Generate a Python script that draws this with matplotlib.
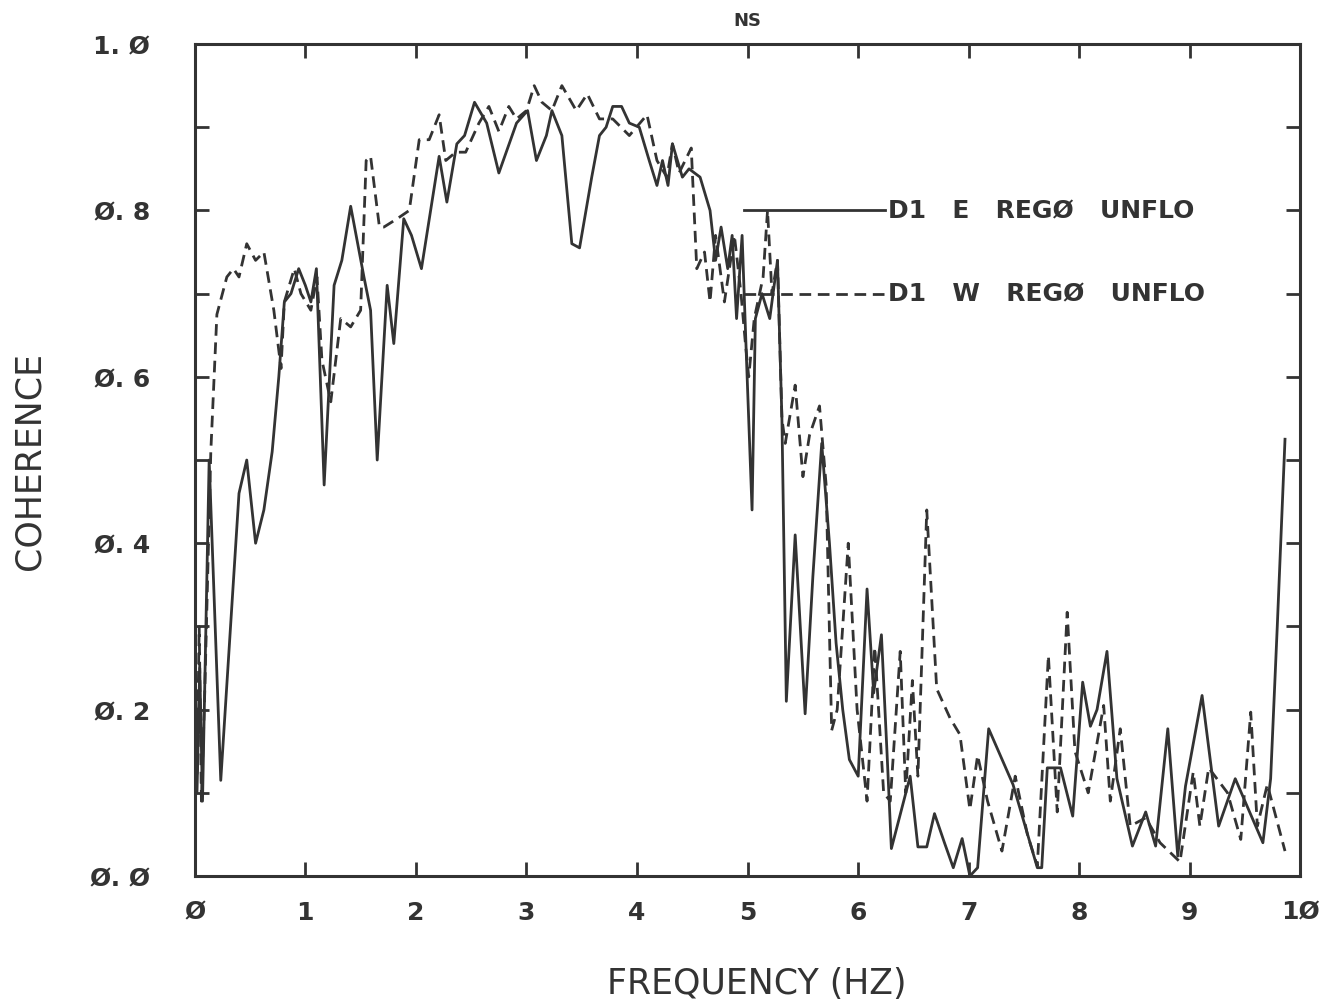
import numpy as np
import matplotlib
matplotlib.use("Agg")
import matplotlib.pyplot as plt
from matplotlib.ticker import MultipleLocator

# coherence vs frequency, east station (solid)
freq_e = [0.00, 0.02, 0.045, 0.07, 0.13, 0.235, 0.40, 0.47, 0.55, 0.625,
          0.70, 0.76, 0.81, 0.87, 0.94, 1.00, 1.05, 1.10, 1.17, 1.26,
          1.33, 1.41, 1.53, 1.59, 1.65, 1.74, 1.80, 1.89, 1.96, 2.05,
          2.21, 2.28, 2.37, 2.44, 2.53, 2.64, 2.75, 2.91, 3.01, 3.09,
          3.18, 3.23, 3.32, 3.41, 3.48, 3.59, 3.66, 3.72, 3.78, 3.86,
          3.93, 4.02, 4.11, 4.18, 4.23, 4.28, 4.32, 4.41, 4.47, 4.57,
          4.66, 4.71, 4.76, 4.82, 4.86, 4.90, 4.95, 4.99, 5.04, 5.07,
          5.13, 5.20, 5.27, 5.31, 5.35, 5.43, 5.52, 5.59, 5.67, 5.74,
          5.80, 5.86, 5.92, 6.00, 6.08, 6.14, 6.21, 6.26, 6.30, 6.47,
          6.54, 6.62, 6.69, 6.78, 6.86, 6.94, 7.01, 7.08, 7.18, 7.40,
          7.62, 7.66, 7.71, 7.83, 7.94, 8.03, 8.10, 8.16, 8.25, 8.34,
          8.48, 8.60, 8.69, 8.80, 8.89, 8.96, 9.11, 9.26, 9.41, 9.53,
          9.66, 9.73, 9.79, 9.86]
coh_e = [0.30, 0.10, 0.25, 0.09, 0.50, 0.115, 0.46, 0.50, 0.40, 0.44,
         0.51, 0.60, 0.69, 0.70, 0.73, 0.71, 0.69, 0.73, 0.47, 0.71,
         0.74, 0.805, 0.72, 0.68, 0.50, 0.71, 0.64, 0.79, 0.77, 0.73,
         0.865, 0.81, 0.88, 0.89, 0.93, 0.905, 0.845, 0.905, 0.92, 0.86,
         0.89, 0.92, 0.89, 0.76, 0.755, 0.84, 0.89, 0.90, 0.925, 0.925,
         0.905, 0.90, 0.86, 0.83, 0.86, 0.83, 0.88, 0.84, 0.85, 0.84,
         0.80, 0.74, 0.78, 0.73, 0.77, 0.67, 0.77, 0.62, 0.44, 0.67,
         0.70, 0.67, 0.74, 0.55, 0.21, 0.41, 0.195, 0.36, 0.52, 0.40,
         0.28, 0.20, 0.14, 0.12, 0.345, 0.22, 0.29, 0.15, 0.033, 0.12,
         0.035, 0.035, 0.075, 0.04, 0.01, 0.045, 0.0, 0.01, 0.177, 0.11,
         0.01, 0.01, 0.13, 0.13, 0.072, 0.233, 0.18, 0.20, 0.27, 0.117,
         0.036, 0.077, 0.036, 0.177, 0.024, 0.108, 0.217, 0.06, 0.117, 0.08,
         0.04, 0.117, 0.30, 0.525]

# coherence vs frequency, west station (dashed)
freq_w = [0.00, 0.02, 0.04, 0.06, 0.09, 0.145, 0.20, 0.29, 0.35, 0.40,
          0.47, 0.55, 0.625, 0.715, 0.78, 0.81, 0.90, 0.96, 1.05, 1.105,
          1.15, 1.23, 1.32, 1.41, 1.50, 1.55, 1.59, 1.67, 1.71, 1.83,
          1.94, 2.03, 2.12, 2.21, 2.27, 2.36, 2.45, 2.57, 2.66, 2.75,
          2.84, 2.91, 3.00, 3.07, 3.14, 3.23, 3.32, 3.45, 3.55, 3.66,
          3.78, 3.93, 4.09, 4.18, 4.27, 4.32, 4.38, 4.49, 4.54, 4.61,
          4.66, 4.71, 4.79, 4.88, 4.94, 4.98, 5.01, 5.06, 5.14, 5.18,
          5.22, 5.27, 5.31, 5.34, 5.43, 5.50, 5.56, 5.65, 5.71, 5.76,
          5.81, 5.91, 5.99, 6.08, 6.15, 6.23, 6.29, 6.38, 6.43, 6.49,
          6.54, 6.62, 6.71, 6.83, 6.92, 7.01, 7.08, 7.17, 7.30, 7.42,
          7.53, 7.62, 7.72, 7.80, 7.89, 7.96, 8.08, 8.22, 8.28, 8.37,
          8.46, 8.60, 8.73, 8.91, 9.03, 9.09, 9.17, 9.34, 9.46, 9.55,
          9.61, 9.70, 9.86]
coh_w = [0.25, 0.12, 0.30, 0.09, 0.22, 0.51, 0.675, 0.72, 0.73, 0.72,
         0.76, 0.74, 0.75, 0.68, 0.61, 0.69, 0.73, 0.70, 0.68, 0.72,
         0.62, 0.57, 0.67, 0.66, 0.68, 0.86, 0.865, 0.78, 0.78, 0.79,
         0.80, 0.885, 0.885, 0.915, 0.86, 0.87, 0.87, 0.905, 0.925, 0.895,
         0.925, 0.91, 0.92, 0.95, 0.93, 0.92, 0.95, 0.92, 0.94, 0.91,
         0.91, 0.89, 0.915, 0.86, 0.84, 0.88, 0.845, 0.875, 0.73, 0.75,
         0.69, 0.77, 0.69, 0.77, 0.70, 0.64, 0.60, 0.67, 0.72, 0.80,
         0.70, 0.74, 0.55, 0.52, 0.59, 0.48, 0.53, 0.565, 0.47, 0.175,
         0.20, 0.40, 0.20, 0.09, 0.275, 0.10, 0.09, 0.27, 0.10, 0.235,
         0.12, 0.44, 0.225, 0.19, 0.17, 0.08, 0.145, 0.09, 0.03, 0.12,
         0.05, 0.012, 0.265, 0.077, 0.317, 0.15, 0.10, 0.205, 0.09, 0.177,
         0.06, 0.07, 0.04, 0.017, 0.125, 0.06, 0.13, 0.10, 0.044, 0.197,
         0.06, 0.11, 0.03]

x_ticks = list(range(11))
x_labels = ["Ø", "1", "2", "3", "4", "5", "6", "7", "8", "9", "1Ø"]
y_ticks = [0.0, 0.2, 0.4, 0.6, 0.8, 1.0]
y_labels = ["Ø. Ø", "Ø. 2", "Ø. 4", "Ø. 6", "Ø. 8", "1. Ø"]
legend_e = "D1   E   REGØ   UNFLO"
legend_w = "D1   W   REGØ   UNFLO"

ink = "#333333"
dash = (0, (4.2, 2.4))

fig = plt.figure(figsize=(13.25, 10.03), dpi=100)
ax = fig.add_axes([0.147, 0.1256, 0.8345, 0.8295])

ax.plot(freq_e, coh_e, color=ink, lw=2.0)
ax.plot(freq_w, coh_w, color=ink, lw=2.0, linestyle=dash)

ax.set_xlim(0, 10)
ax.set_ylim(0, 1)
ax.set_xticks(x_ticks)
ax.set_xticklabels(x_labels)
ax.set_yticks(y_ticks)
ax.set_yticklabels(y_labels)
ax.yaxis.set_minor_locator(MultipleLocator(0.1))

for lab in ax.get_xticklabels() + ax.get_yticklabels():
    lab.set_fontfamily("DejaVu Sans")
    lab.set_fontweight("bold")
    lab.set_fontsize(18)
    lab.set_color(ink)

ax.tick_params(axis="both", which="both", direction="in", length=10, width=2,
               color=ink, top=True, right=True)
ax.tick_params(axis="x", pad=17)
ax.tick_params(axis="y", pad=32)
for s in ax.spines.values():
    s.set_linewidth(2.2)
    s.set_color(ink)

ax.set_title("NS", fontsize=13, fontweight="bold", color=ink, pad=14,
             family="DejaVu Sans")
ax.set_xlabel("FREQUENCY (HZ)", fontsize=25, color=ink, family="DejaVu Sans")
ax.set_ylabel("COHERENCE", fontsize=25, color=ink, family="DejaVu Sans")
ax.xaxis.set_label_coords(0.508, -0.108)
ax.yaxis.set_label_coords(-0.134, 0.5)

# line keys drawn inside the plot
ax.plot([0.497, 0.624], [0.8, 0.8], transform=ax.transAxes, color=ink, lw=2.0)
ax.plot([0.497, 0.624], [0.7, 0.7], transform=ax.transAxes, color=ink, lw=2.0,
        linestyle=dash)
ax.text(0.627, 0.8, legend_e, transform=ax.transAxes, va="center", ha="left",
        fontsize=18, fontweight="bold", color=ink, family="DejaVu Sans")
ax.text(0.627, 0.7, legend_w, transform=ax.transAxes, va="center", ha="left",
        fontsize=18, fontweight="bold", color=ink, family="DejaVu Sans")

fig.savefig("out.png", dpi=100)
